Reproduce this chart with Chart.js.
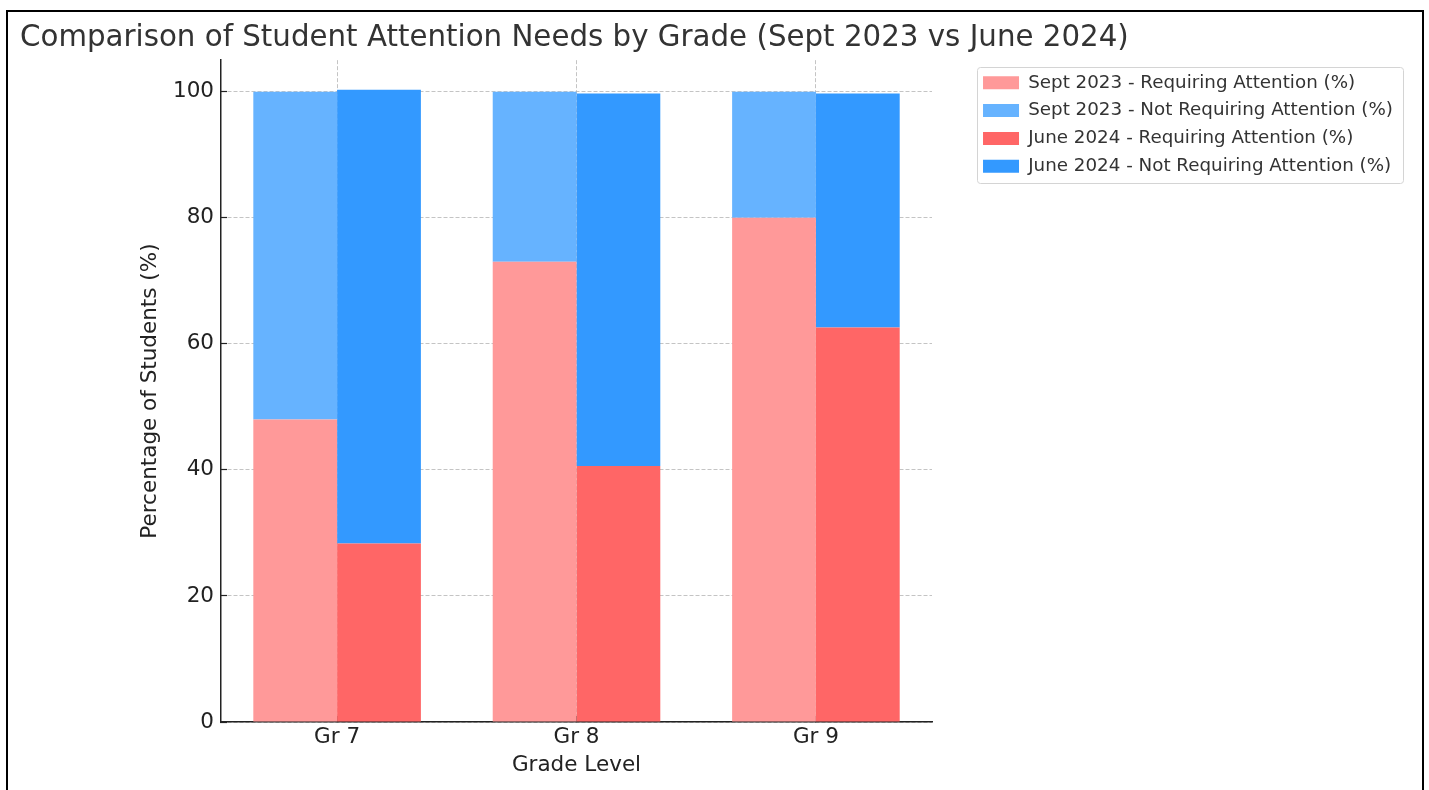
<!DOCTYPE html>
<html lang="en">
<head>
    <title>Student Attention Needs by Grade</title>
    <script src="https://cdn.jsdelivr.net/npm/chart.js"></script>
    <style>
        body { margin: 0; background: #fff; }
        #wrap { position: relative; width: 1429px; height: 790px; overflow: hidden; }
        #chart { display: block; }
        #frame { position: absolute; left: 6px; top: 10px; width: 1414px; height: 800px; border: 2px solid #000; pointer-events: none; }
    </style>
</head>
<body>
<div id="wrap">
    <canvas id="chart" width="1429" height="790"></canvas>
    <div id="frame"></div>
</div>

<script>
    var grades = ['Gr 7', 'Gr 8', 'Gr 9'];
    var septRequiring = [48, 73, 80];
    var septNotRequiring = [52, 27, 20];
    var juneRequiring = [28.3, 40.6, 62.6];
    var juneNotRequiring = [72.0, 59.1, 37.1];
    var yTicks = [0, 20, 40, 60, 80, 100];

    Chart.defaults.font.family = "'DejaVu Sans'";

    // bars sit on a linear x axis so the range can match the original margins
    function toPoints(values) {
        return values.map((v, i) => ({ x: i, y: v }));
    }

    var gridLine = 'rgba(176, 176, 176, 0.75)';

    // light frame round the legend items
    var legendFrame = {
        id: 'legendFrame',
        afterDraw: function(chart) {
            var boxes = chart.legend.legendHitBoxes;
            if (!boxes || !boxes.length) return;
            var left = Math.min(...boxes.map(b => b.left)) - 6;
            var right = Math.max(...boxes.map(b => b.left + b.width)) + 10;
            var top = boxes[0].top - 7;
            var last = boxes[boxes.length - 1];
            var bottom = last.top + last.height + 7.5;
            var ctx = chart.ctx;
            ctx.save();
            ctx.strokeStyle = '#d4d4d4';
            ctx.lineWidth = 1;
            ctx.beginPath();
            ctx.roundRect(Math.round(left) + 0.5, Math.round(top) + 0.5, Math.round(right - left), Math.round(bottom - top), 3);
            ctx.stroke();
            ctx.restore();
        }
    };

    var ctx = document.getElementById('chart').getContext('2d');
    var chart = new Chart(ctx, {
        type: 'bar',
        data: {
            datasets: [
                { label: 'Sept 2023 - Requiring Attention (%)', data: toPoints(septRequiring), backgroundColor: '#ff9999', stack: 'sept' },
                { label: 'Sept 2023 - Not Requiring Attention (%)', data: toPoints(septNotRequiring), backgroundColor: '#66b3ff', stack: 'sept' },
                { label: 'June 2024 - Requiring Attention (%)', data: toPoints(juneRequiring), backgroundColor: '#ff6666', stack: 'june' },
                { label: 'June 2024 - Not Requiring Attention (%)', data: toPoints(juneNotRequiring), backgroundColor: '#3399ff', stack: 'june' }
            ]
        },
        options: {
            responsive: false,
            animation: false,
            categoryPercentage: 0.7,
            barPercentage: 1.0,
            layout: { padding: { left: 20, right: 26, top: 0, bottom: 0 } },
            plugins: {
                tooltip: { enabled: false },
                title: {
                    display: true,
                    text: 'Comparison of Student Attention Needs by Grade (Sept 2023 vs June 2024)',
                    align: 'start',
                    color: '#333',
                    font: { size: 29.3, weight: 'normal' },
                    padding: { top: 21, bottom: 4 }
                },
                legend: {
                    position: 'right',
                    align: 'start',
                    fullSize: false,
                    maxWidth: 600,
                    title: { display: true, text: '', font: { size: 4, lineHeight: 1 }, padding: 0 },
                    labels: {
                        boxWidth: 36,
                        boxHeight: 13,
                        padding: 9.5,
                        color: '#333',
                        font: { size: 18.3 }
                    }
                }
            },
            scales: {
                x: {
                    type: 'linear',
                    min: -0.485,
                    max: 2.485,
                    offset: false,
                    stacked: true,
                    z: 1,
                    afterBuildTicks: s => { s.ticks = grades.map((g, i) => ({ value: i })); },
                    afterFit: s => { s.height = 68; },
                    ticks: {
                        callback: (v, i) => grades[i],
                        autoSkip: false,
                        maxRotation: 0,
                        color: '#222',
                        font: { size: 21.5 },
                        padding: 9
                    },
                    title: {
                        display: true,
                        text: 'Grade Level',
                        color: '#222',
                        font: { size: 21.5 },
                        padding: { top: 0, bottom: 11.7 }
                    },
                    grid: {
                        color: gridLine,
                        lineWidth: 1,
                        offset: false,
                        tickLength: -6,
                        tickColor: '#222',
                        tickWidth: 1.2,
                        tickBorderDash: []
                    },
                    border: { display: true, color: '#222', width: 1.5, dash: [4, 2] }
                },
                y: {
                    min: 0,
                    max: 105,
                    stacked: true,
                    z: 1,
                    afterBuildTicks: s => { s.ticks = yTicks.map(v => ({ value: v })); },
                    afterFit: s => { s.width = 201; },
                    ticks: {
                        color: '#222',
                        font: { size: 21.5 },
                        padding: 13
                    },
                    title: {
                        display: true,
                        text: 'Percentage of Students (%)',
                        color: '#222',
                        font: { size: 21.5 },
                        padding: { top: 118, bottom: 0 }
                    },
                    grid: {
                        color: gridLine,
                        lineWidth: 1,
                        tickLength: -6,
                        tickColor: '#222',
                        tickWidth: 1.2,
                        tickBorderDash: []
                    },
                    border: { display: true, color: '#222', width: 1.5, dash: [4, 2] }
                },
                pad: {
                    type: 'linear',
                    position: 'right',
                    display: true,
                    afterFit: s => { s.width = 41.5; },
                    ticks: { display: false },
                    grid: { display: false, drawTicks: false },
                    border: { display: false }
                }
            }
        },
        plugins: [legendFrame]
    });
</script>
</body>
</html>
